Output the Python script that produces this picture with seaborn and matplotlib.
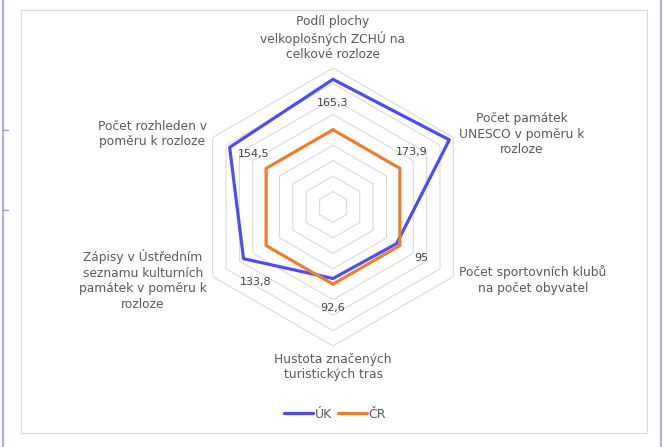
import numpy as np
import pandas as pd
import matplotlib
matplotlib.use("Agg")
import matplotlib.pyplot as plt
import seaborn as sns
from matplotlib.patches import Rectangle
from matplotlib.lines import Line2D

# categories clockwise from the top
categories = [
    "Podíl plochy\nvelkoplošných ZCHÚ na\ncelkové rozloze",
    "Počet památek\nUNESCO v poměru k\nrozloze",
    "Počet sportovních klubů\nna počet obyvatel",
    "Hustota značených\nturistických tras",
    "Zápisy v Ústředním\nseznamu kulturních\npamátek v poměru k\nrozloze",
    "Počet rozhleden v\npoměru k rozloze",
]
uk_values = [165.3, 173.9, 95, 92.6, 133.8, 154.5]
cr_values = [100, 100, 100, 100, 100, 100]
series_names = ["ÚK", "ČR"]
ring_values = [20, 40, 60, 80, 100, 120, 140, 160, 180]

colors = {"ÚK": "#4D4DF5", "ČR": "#ED7D31"}
label_offsets = [(0, -17), (-27, -9), (18, -10), (0, -21), (9, -17), (17, -5)]

W, H = 667, 447
n = len(categories)
theta = np.arange(n) * 2 * np.pi / n

# long table, closing each loop
rows = []
for name, vals in zip(series_names, [uk_values, cr_values]):
    for i in range(n + 1):
        rows.append({"theta": theta[i % n] if i < n else 2 * np.pi,
                     "hodnota": vals[i % n], "rada": name})
df = pd.DataFrame(rows)

sns.set_theme(style="white")
plt.rcParams["font.family"] = ["DejaVu Sans"]

fig = plt.figure(figsize=(W / 100, H / 100), dpi=100)
fig.patch.set_facecolor("white")

cx, cy, rad = 333, 207, 139
ax = fig.add_axes([(cx - rad) / W, (H - cy - rad) / H, 2 * rad / W, 2 * rad / H],
                  projection="polar")
ax.set_theta_zero_location("N")
ax.set_theta_direction(-1)
ax.set_ylim(0, ring_values[-1])
ax.grid(False)
ax.spines["polar"].set_visible(False)
ax.set_xticks([])
ax.set_yticks([])
ax.patch.set_alpha(0)

# hexagonal gridlines
hex_theta = np.append(theta, 2 * np.pi)
for r in ring_values:
    ax.plot(hex_theta, [r] * (n + 1), color="#D9D9D9", lw=0.75, zorder=1)

sns.lineplot(data=df, x="theta", y="hodnota", hue="rada", palette=colors,
             sort=False, estimator=None, units="rada", linewidth=2.3,
             ax=ax, legend=False, zorder=3)
ax.set_xlabel("")
ax.set_ylabel("")

# data labels for ÚK
for t, v, off in zip(theta, uk_values, label_offsets):
    txt = f"{v:g}".replace(".", ",")
    ax.annotate(txt, xy=(t, v), xytext=off, textcoords="offset points",
                ha="center", va="center", fontsize=8, color="#404040")

# category labels around the outer ring
for t, lab in zip(theta, categories):
    s, c = np.sin(t), np.cos(t)
    ha = "center" if abs(s) < 0.1 else ("left" if s > 0 else "right")
    va = "center" if abs(c) < 0.9 else ("bottom" if c > 0 else "top")
    ax.annotate(lab, xy=(t, ring_values[-1]), xytext=(5 * s, 5 * c),
                textcoords="offset points", ha=ha, va=va, multialignment="center",
                fontsize=8.8, color="#595959", linespacing=1.25)

# legend at the bottom
handles = [Line2D([], [], color=colors[s], lw=2.3) for s in series_names]
fig.legend(handles, series_names, loc="center", bbox_to_anchor=(335 / W, 1 - 414 / H),
           ncol=2, frameon=False, fontsize=9, handlelength=2.3, handletextpad=0.15,
           columnspacing=0.5, labelcolor="#595959")

# chart border and selection lines
fig.add_artist(Rectangle((21 / W, 1 - 433 / H), 626 / W, 423 / H, transform=fig.transFigure,
                         fill=False, edgecolor="#D9D9D9", lw=0.8))
for x in [2.5, 660.5]:
    fig.add_artist(Line2D([x / W, x / W], [0, 1], transform=fig.transFigure,
                          color="#9999FF", lw=1.2))
for y in [130, 210]:
    fig.add_artist(Line2D([2 / W, 8 / W], [1 - y / H, 1 - y / H], transform=fig.transFigure,
                          color="#9999FF", lw=1.0))

fig.savefig("out.png", dpi=100)
